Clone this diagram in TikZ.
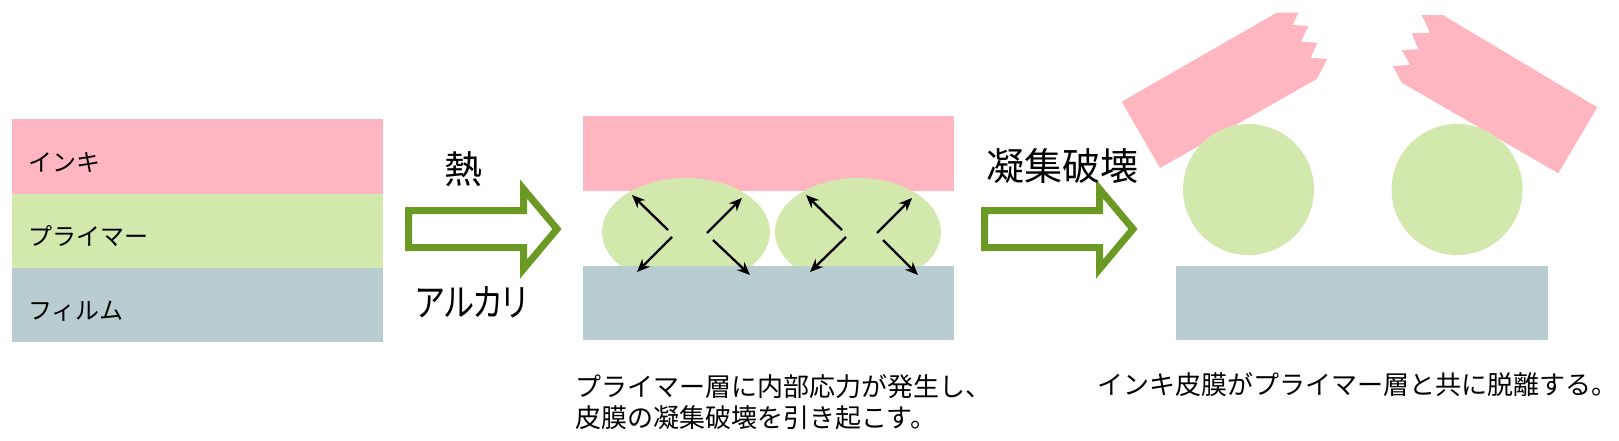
\documentclass[tikz,border=0pt]{standalone}
\usepackage{fontspec}
\newfontfamily\jp{Noto Sans CJK JP}
\newfontfamily\jpp{Noto Sans CJK JP}[RawFeature=+palt]
\usetikzlibrary{arrows.meta}
\definecolor{inkpink}{RGB}{255,182,193}
\definecolor{primergreen}{RGB}{210,232,172}
\definecolor{filmblue}{RGB}{185,205,208}
\definecolor{arrowgreen}{RGB}{106,153,36}
\tikzset{
  bigarrow/.style={draw=arrowgreen, line width=7pt, line join=miter, fill=white},
  stress/.style={line width=2.3pt, -{Stealth[length=13pt,width=11pt]}},
  lbl/.style={font=\jp\fontsize{24}{28}\selectfont, anchor=base west, inner sep=0pt},
  big/.style={font=\jp\fontsize{38}{44}\selectfont, anchor=base, inner sep=0pt},
  captext/.style={font=\jp\fontsize{26}{31}\selectfont, anchor=base west, inner sep=0pt},
}
\begin{document}
\begin{tikzpicture}[x=1pt,y=-1pt]
\useasboundingbox (0,0) rectangle (1619,440);
% ---- left panel
\fill[inkpink] (12,119) rectangle (383,194);
\fill[primergreen] (12,194) rectangle (383,268);
\fill[filmblue] (12,268) rectangle (383,342);
\node[lbl] (l1) at (28,171) {インキ};
\node[lbl] (l2) at (28,245) {プライマー};
\node[lbl] (l3) at (28,319) {フィルム};
% ---- big arrows
\foreach \dx in {0,576}{
  \draw[bigarrow] (408.5+\dx,210.5) -- (523.5+\dx,210.5) -- (523.5+\dx,189) -- (557+\dx,229)
     -- (523.5+\dx,269) -- (523.5+\dx,247.5) -- (408.5+\dx,247.5) -- cycle;
}
\node[big] (heat) at (463.5,183) {熱};
\node[big] (alk) at (471.5,316) {\scalebox{0.82}[1]{\jpp アルカリ}};
\node[big] (coh) at (1062.5,180.5) {凝集破壊};
% ---- middle panel
\fill[inkpink] (583,116) rectangle (954,191);
\fill[primergreen] (686,232) ellipse [x radius=84, y radius=54];
\fill[primergreen] (858,232) ellipse [x radius=83, y radius=54];
\fill[filmblue] (583,266) rectangle (954,340);
% stress arrows
\draw[stress] (668,230) -- (632,195);
\draw[stress] (672,237) -- (637,272);
\draw[stress] (707,233) -- (742,198);
\draw[stress] (713,240) -- (750,275);
\draw[stress] (842,230) -- (806,195);
\draw[stress] (846,237) -- (810,272);
\draw[stress] (877,233) -- (912,198);
\draw[stress] (883,240) -- (918,275);
\node[captext] (c1) at (575,396) {プライマー層に内部応力が発生し、};
\node[captext] (c2) at (575,427) {皮膜の凝集破壊を引き起こす。};
% ---- right panel
\fill[inkpink] (1160,168) -- (1121.7,101.7) -- (1276.7,12.7) -- (1298.3,12.7) -- (1292.7,25)
  -- (1308.3,26) -- (1301,41.7) -- (1317.3,42.7) -- (1310.7,57.7) -- (1327.3,59) -- (1316.7,79) -- cycle;
\fill[inkpink] (1421.7,15) -- (1442.7,15) -- (1597.3,107.3) -- (1558.3,173.3) -- (1401.7,82.7)
  -- (1392.7,66) -- (1410,65) -- (1401.7,50) -- (1418.3,49.3) -- (1411.7,33.3) -- (1430,32.7) -- cycle;
\fill[primergreen] (1248.5,189.5) circle [radius=65.5];
\fill[primergreen] (1457,189.5) circle [radius=65.5];
\fill[filmblue] (1176,266) rectangle (1548,340);
\node[captext] (c3) at (1097,394) {インキ皮膜がプライマー層と共に脱離する。};
\end{tikzpicture}
\end{document}
